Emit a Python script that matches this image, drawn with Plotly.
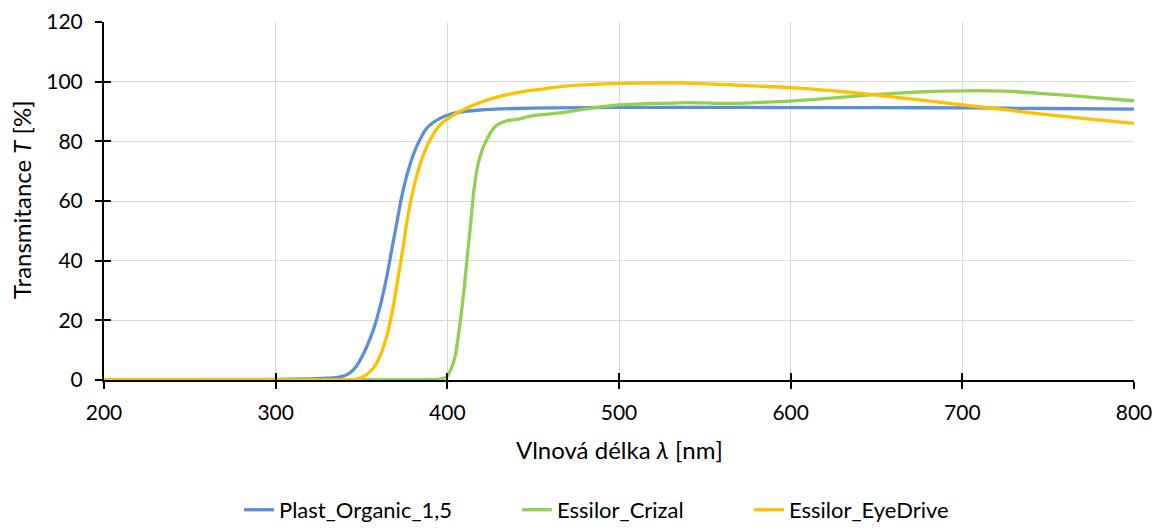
import plotly.graph_objects as go

# Wavelength [nm] and transmittance [%]
lam_blue = [200, 250, 300, 320, 330, 336, 340, 343.5, 347, 350.1, 353.5, 356.9, 360.8, 364.7, 367.6, 370.5, 373.4, 377.3, 382.1, 388, 395.7, 405.4, 419, 440, 460, 500, 550, 600, 650, 700, 750, 800]
T_blue = [0, 0, 0.2, 0.4, 0.6, 0.9, 1.4, 2.5, 4.6, 7.6, 11.8, 16.8, 24.6, 34.6, 43.6, 52.5, 61.4, 70.4, 78.2, 84.4, 87.7, 89.6, 90.5, 91.0, 91.2, 91.4, 91.4, 91.3, 91.3, 91.2, 91.0, 90.8]

lam_green = [200, 350, 392, 397, 399.6, 402, 404.5, 407.4, 409.7, 411.6, 413.6, 415.5, 418, 421.9, 427.8, 434.6, 442.3, 447, 452, 460, 469, 475, 482, 490, 500, 510, 520, 530, 540, 550, 560, 580, 600, 620, 645, 670, 690, 708, 725, 745, 770, 800]
T_green = [0, 0.1, 0.2, 0.5, 1.1, 3.5, 7.8, 19, 30.2, 41.3, 52.5, 63.7, 72.6, 79.3, 84.9, 86.9, 87.5, 88.3, 88.8, 89.2, 89.8, 90.4, 91, 91.6, 92.2, 92.5, 92.7, 92.8, 93.0, 92.9, 92.7, 93, 93.5, 94.3, 95.5, 96.4, 96.8, 97, 96.8, 96.1, 95, 93.6]

lam_yellow = [200, 300, 340, 347, 351, 355, 358.8, 361.8, 364.6, 368.5, 371.4, 374, 376.3, 379.2, 383.1, 388, 395.7, 405.4, 419, 430, 444, 460, 470, 485, 500, 520, 535, 555, 570, 600, 625, 645, 670, 700, 725, 745, 770, 800]
T_yellow = [0, 0, 0, 0.3, 1.1, 2.8, 5.6, 9.5, 14.5, 24.6, 34.6, 43.6, 52.5, 61.4, 70.4, 78.2, 85.5, 89.4, 93, 95, 96.7, 97.9, 98.6, 99.1, 99.4, 99.6, 99.6, 99.2, 98.8, 98, 96.9, 95.8, 94.2, 92.2, 90.6, 89.2, 87.7, 86]

names = ["Plast_Organic_1,5", "Essilor_Crizal", "Essilor_EyeDrive"]
colors = ["#5B8FD6", "#92D050", "#FFC000"]

x_ticks = [200, 300, 400, 500, 600, 700, 800]
y_ticks = [0, 20, 40, 60, 80, 100, 120]

FONT = "Lato, Liberation Sans, sans-serif"
FS = 21
FS_TITLE = 24
FS_LEG = 22

fig = go.Figure()
legend_ids = ["legend", "legend2", "legend3"]
for lam, T, nm, c, lg in zip([lam_blue, lam_green, lam_yellow], [T_blue, T_green, T_yellow], names, colors, legend_ids):
    fig.add_trace(go.Scatter(x=lam, y=T, name=nm, mode="lines", legend=lg,
                             line=dict(color=c, width=3.3, shape="spline", smoothing=0.7)))

# invisible trace on overlay axes to get crossing ticks
fig.add_trace(go.Scatter(x=[200, 800], y=[0, 120], xaxis="x2", yaxis="y2", mode="lines",
                         line=dict(width=0), showlegend=False, hoverinfo="skip"))

axis_common = dict(showgrid=True, gridcolor="#D9D9D9", gridwidth=1, showline=True,
                   linecolor="black", linewidth=2, ticks="outside", ticklen=7, tickwidth=2,
                   tickcolor="black", zeroline=False, layer="below traces", automargin=False)

leg_common = dict(orientation="h", xanchor="left", yanchor="middle", y=-0.363,
                  font=dict(size=FS_LEG, family=FONT), bgcolor="rgba(0,0,0,0)")

fig.update_layout(
    width=1154, height=532,
    margin=dict(l=104, r=20, t=22, b=152, autoexpand=False),
    paper_bgcolor="white", plot_bgcolor="white",
    font=dict(family=FONT, size=FS, color="#000000"),
    xaxis=dict(range=[200, 800], tickvals=x_ticks, ticklabelstandoff=6, **axis_common),
    yaxis=dict(range=[0, 120], tickvals=y_ticks, ticklabelstandoff=8, **axis_common),
    xaxis2=dict(overlaying="x", range=[200, 800], tickvals=x_ticks, showticklabels=False,
                ticks="inside", ticklen=7, tickwidth=2, tickcolor="black", showgrid=False,
                zeroline=False, side="bottom", anchor="y2", automargin=False),
    yaxis2=dict(overlaying="y", range=[0, 120], tickvals=y_ticks, showticklabels=False,
                ticks="inside", ticklen=7, tickwidth=2, tickcolor="black", showgrid=False,
                zeroline=False, side="left", anchor="x2", automargin=False),
    legend=dict(x=0.1311, **leg_common),
    legend2=dict(x=0.4010, **leg_common),
    legend3=dict(x=0.6262, **leg_common),
    showlegend=True,
    annotations=[
        dict(text="Vlnová délka <i>λ</i> [nm]", xref="paper", yref="paper", x=0.5, y=-0.1955,
             xanchor="center", yanchor="middle", showarrow=False,
             font=dict(size=FS_TITLE, family=FONT, color="#000000")),
        dict(text="Transmitance <i>T</i> [%]", xref="paper", yref="paper", x=-0.0796, y=0.503,
             xanchor="center", yanchor="middle", textangle=-90, showarrow=False,
             font=dict(size=FS_TITLE, family=FONT, color="#000000")),
    ],
)

fig.write_html("out.html")
